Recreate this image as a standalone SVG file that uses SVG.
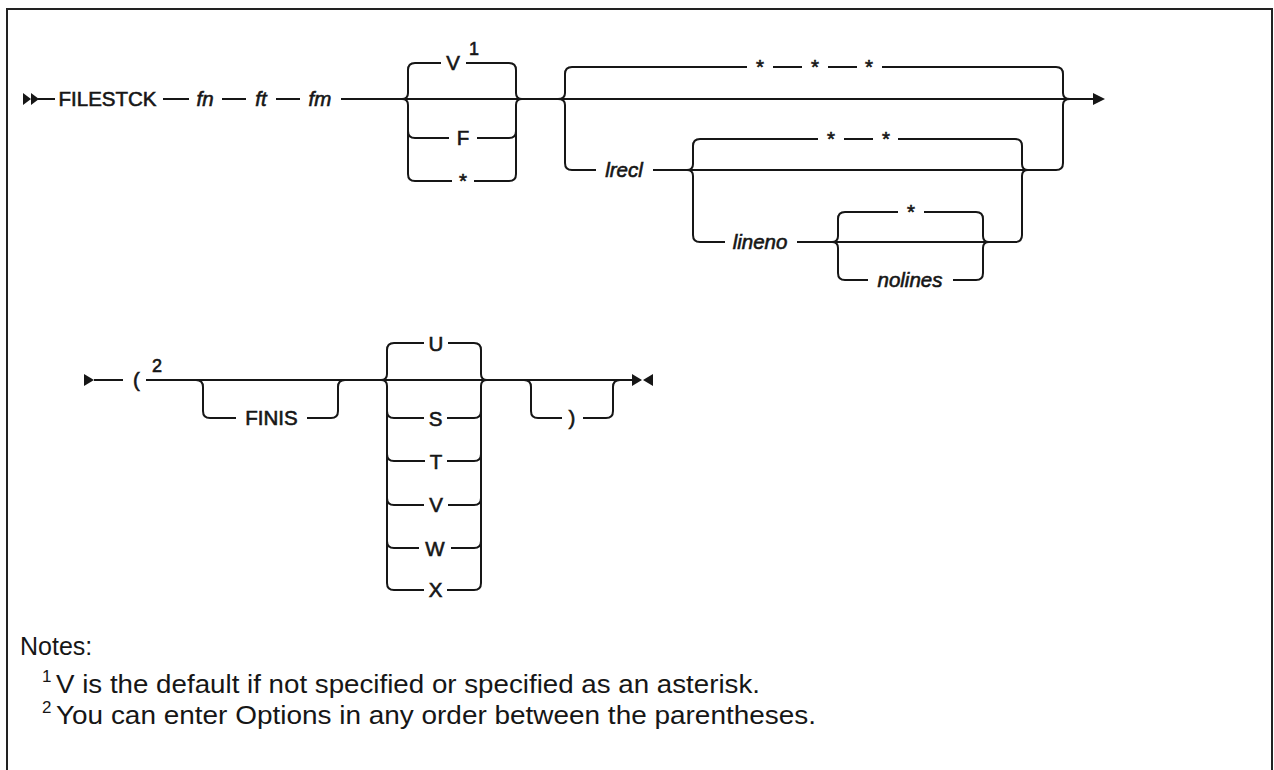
<svg xmlns="http://www.w3.org/2000/svg" width="1274" height="770" viewBox="0 0 1274 770">
<style>
.ln{fill:none;stroke:#161616;stroke-width:2;stroke-linecap:butt}
.ah{fill:#161616;stroke:none}
.lb{font-family:"Liberation Sans",Arial,sans-serif;font-size:20.5px;fill:#161616;text-anchor:middle;stroke:#161616;stroke-width:0.6}
.it{font-style:italic}
.sup{font-family:"Liberation Sans",Arial,sans-serif;font-size:18px;fill:#161616;text-anchor:middle;stroke:#161616;stroke-width:0.6}
.nt{font-family:"Liberation Sans",Arial,sans-serif;font-size:25px;fill:#161616}
.ns{font-family:"Liberation Sans",Arial,sans-serif;font-size:17px;fill:#161616}
</style>
<rect width="1274" height="770" fill="#fff"/>
<path d="M7,770 V9 H1272 V770" fill="none" stroke="#222" stroke-width="2"/>

<g id="connectors">
  <!-- row 1 start -->
  <path class="ah" d="M23,93 L31,99 L23,105 Z M31,93 L39,99 L31,105 Z"/>
  <path class="ln" d="M38,99 H55 M163,99 H189 M222,99 H246 M276,99 H300 M341,99 H1094"/>
  <path class="ah" d="M1093,93 L1105,99 L1093,105 Z"/>
  <!-- group 1 -->
  <path class="ln" d="M415,63 Q408,63 408,70 V93 Q408,99 402,99 Q408,99 408,105 V174 Q408,181 415,181 M408,131 Q408,138 415,138"/>
  <path class="ln" d="M509,63 Q516,63 516,70 V93 Q516,99 522,99 Q516,99 516,105 V174 Q516,181 509,181 M516,131 Q516,138 509,138"/>
  <path class="ln" d="M415,63 H441 M466,63 H509 M415,138 H449 M477,138 H509 M415,181 H452 M474,181 H509"/>
  <!-- group 2 -->
  <path class="ln" d="M572,67 Q565,67 565,74 V93 Q565,99 558,99 Q565,99 565,105 V163 Q565,170 572,170"/>
  <path class="ln" d="M1056,67 Q1063,67 1063,74 V93 Q1063,99 1070,99 Q1063,99 1063,105 V163 Q1063,170 1056,170"/>
  <path class="ln" d="M572,67 H747 M773,67 H802 M828,67 H857 M882,67 H1056 M572,170 H596 M653,170 H1056"/>
  <!-- subgroup 3 -->
  <path class="ln" d="M700,139 Q693,139 693,146 V164 Q693,170 687,170 Q693,170 693,176 V235 Q693,242 700,242"/>
  <path class="ln" d="M1015,139 Q1022,139 1022,146 V164 Q1022,170 1028,170 Q1022,170 1022,176 V235 Q1022,242 1015,242"/>
  <path class="ln" d="M700,139 H818 M844,139 H873 M898,139 H1015 M700,242 H725 M797,242 H1015"/>
  <!-- subgroup 4 -->
  <path class="ln" d="M845,212 Q838,212 838,219 V236 Q838,242 832,242 Q838,242 838,248 V273 Q838,280 845,280"/>
  <path class="ln" d="M976,212 Q983,212 983,219 V236 Q983,242 989,242 Q983,242 983,248 V273 Q983,280 976,280"/>
  <path class="ln" d="M845,212 H898 M924,212 H976 M845,280 H868 M953,280 H976"/>
  <!-- row 2 -->
  <path class="ah" d="M84,374 L94,380 L84,386 Z"/>
  <path class="ln" d="M94,380 H123 M146,380 H633"/>
  <!-- FINIS -->
  <path class="ln" d="M196,380 Q203,380 203,387 V411 Q203,418 210,418 H236 M307,418 H331 Q338,418 338,411 V387 Q338,380 345,380"/>
  <!-- U group -->
  <path class="ln" d="M394,343 Q387,343 387,350 V374 Q387,380 381,380 Q387,380 387,386 V583 Q387,590 394,590 M387,411 Q387,418 394,418 M387,454 Q387,461 394,461 M387,498 Q387,505 394,505 M387,541 Q387,548 394,548"/>
  <path class="ln" d="M474,343 Q481,343 481,350 V374 Q481,380 487,380 Q481,380 481,386 V583 Q481,590 474,590 M481,411 Q481,418 474,418 M481,454 Q481,461 474,461 M481,498 Q481,505 474,505 M481,541 Q481,548 474,548"/>
  <path class="ln" d="M394,343 H424 M448,343 H474 M394,418 H424 M447,418 H474 M394,461 H425 M447,461 H474 M394,505 H424 M448,505 H474 M394,548 H419 M451,548 H474 M394,590 H424 M447,590 H474"/>
  <!-- paren group -->
  <path class="ln" d="M524,380 Q531,380 531,387 V411 Q531,418 538,418 H562 M583,418 H606 Q613,418 613,411 V387 Q613,380 620,380"/>
  <path class="ah" d="M632,374 L642,380 L632,386 Z M653,374 L643,380 L653,386 Z"/>
</g>

<g id="n-filestck"><text class="lb" x="107.5" y="106">FILESTCK</text></g>
<g id="n-fn"><text class="lb it" x="205" y="106">fn</text></g>
<g id="n-ft"><text class="lb it" x="261" y="106">ft</text></g>
<g id="n-fm"><text class="lb it" x="320" y="106">fm</text></g>
<g id="n-v"><text class="lb" x="453" y="70">V</text><text class="sup" x="474" y="55">1</text></g>
<g id="n-f"><text class="lb" x="463" y="145">F</text></g>
<g id="n-star1"><text class="lb" x="463" y="188">*</text></g>
<g id="n-stars3"><text class="lb" x="760" y="74">*</text><text class="lb" x="815" y="74">*</text><text class="lb" x="869" y="74">*</text></g>
<g id="n-lrecl"><text class="lb it" x="624" y="177">lrecl</text></g>
<g id="n-stars2"><text class="lb" x="831" y="146">*</text><text class="lb" x="886" y="146">*</text></g>
<g id="n-lineno"><text class="lb it" x="760" y="249">lineno</text></g>
<g id="n-star4"><text class="lb" x="911" y="219">*</text></g>
<g id="n-nolines"><text class="lb it" x="910" y="287">nolines</text></g>

<g id="n-paren-open"><text class="lb" x="136.5" y="387">(</text><text class="sup" x="157" y="372">2</text></g>
<g id="n-finis"><text class="lb" x="271.5" y="425">FINIS</text></g>
<g id="n-u"><text class="lb" x="436" y="351">U</text></g>
<g id="n-s"><text class="lb" x="435.5" y="426">S</text></g>
<g id="n-t"><text class="lb" x="436" y="469">T</text></g>
<g id="n-v2"><text class="lb" x="436" y="512">V</text></g>
<g id="n-w"><text class="lb" x="435" y="556">W</text></g>
<g id="n-x"><text class="lb" x="435.5" y="597">X</text></g>
<g id="n-paren-close"><text class="lb" x="572" y="425">)</text></g>

<g id="notes">
  <text class="nt" x="20" y="655">Notes:</text>
  <text class="ns" x="42" y="682">1</text>
  <text class="nt" x="56" y="693" textLength="704" lengthAdjust="spacingAndGlyphs">V is the default if not specified or specified as an asterisk.</text>
  <text class="ns" x="42" y="713">2</text>
  <text class="nt" x="56" y="724" textLength="760" lengthAdjust="spacingAndGlyphs">You can enter Options in any order between the parentheses.</text>
</g>
</svg>
